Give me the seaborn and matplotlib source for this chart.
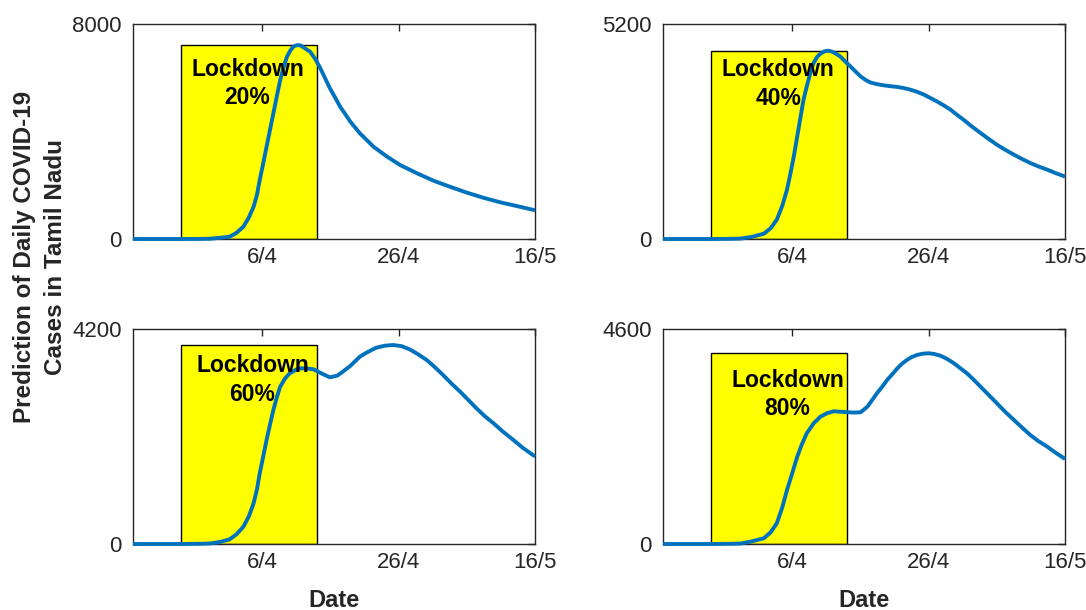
import matplotlib
matplotlib.use("Agg")
import matplotlib.pyplot as plt
import seaborn as sns

# Days counted from 18 March 2020 (day 0) to 16 May 2020 (day 59)
days_20 = [0, 7, 10, 11.3, 12.8, 14.2, 15.2, 16.2, 17.0, 17.7, 18.2, 18.6, 19.1, 19.6,
           20.1, 20.6, 21.1, 21.6, 22.1, 22.6, 23.1, 23.6, 24.1, 24.6, 25.2, 26.0,
           26.8, 27.5, 28.2, 28.9, 29.7, 30.4, 31.2, 31.9, 33.3, 35.3, 37.3, 39.2,
           41.7, 44.1, 46.5, 49.0, 51.4, 53.9, 56.3, 59.0]
cases_20 = [0, 0, 5, 10, 45, 86, 230, 458, 800, 1200, 1650, 2195, 2800, 3434,
            4050, 4676, 5300, 5915, 6400, 6783, 7020, 7170, 7215, 7200, 7100, 6968,
            6680, 6350, 5980, 5606, 5250, 4922, 4630, 4364, 3932, 3434, 3062, 2753,
            2444, 2169, 1946, 1724, 1537, 1365, 1228, 1070]

days_40 = [0, 7, 10, 11.4, 13.0, 14.8, 15.8, 16.7, 17.5, 18.2, 18.7, 19.2, 19.7, 20.2,
           20.6, 21.1, 21.6, 22.1, 22.6, 23.1, 23.7, 24.3, 25.0, 26.0, 26.7, 27.5,
           28.3, 29.0, 29.7, 30.4, 31.4, 32.4, 33.4, 34.4, 35.4, 36.3, 37.3, 38.3,
           39.2, 40.2, 41.2, 42.2, 43.1, 44.1, 45.3, 46.6, 47.8, 49.0, 50.2, 51.5,
           52.7, 53.9, 55.1, 56.4, 57.6, 59.0]
cases_40 = [0, 0, 5, 10, 50, 128, 260, 467, 800, 1193, 1580, 1998, 2480, 2966,
            3350, 3691, 4000, 4257, 4400, 4482, 4540, 4555, 4520, 4417, 4300, 4175,
            4045, 3933, 3850, 3788, 3745, 3716, 3695, 3677, 3648, 3612, 3560, 3491,
            3415, 3329, 3232, 3128, 3010, 2886, 2725, 2564, 2420, 2281, 2160, 2039,
            1935, 1838, 1755, 1676, 1595, 1510]

days_60 = [0, 7, 10, 11.3, 12.8, 14.2, 15.2, 16.2, 17.0, 17.7, 18.2, 18.6, 19.1, 19.6,
           20.1, 20.6, 21.1, 21.6, 22.3, 23.0, 24.0, 24.5, 25.5, 26.5, 27.7, 28.9,
           30.0, 30.8, 31.9, 33.3, 34.3, 35.7, 37.0, 38.2, 39.4, 40.6, 41.8, 43.1,
           44.3, 45.5, 46.7, 48.0, 49.2, 50.4, 51.6, 52.9, 54.3, 55.8, 57.2, 59.0]
cases_60 = [0, 0, 5, 10, 40, 92, 190, 338, 540, 795, 1070, 1381, 1700, 2031,
            2330, 2617, 2860, 3072, 3230, 3334, 3410, 3431, 3430, 3412, 3330, 3256,
            3290, 3367, 3480, 3660, 3740, 3835, 3875, 3887, 3865, 3803, 3710, 3595,
            3455, 3302, 3140, 2977, 2815, 2652, 2500, 2360, 2195, 2035, 1880, 1710]

days_80 = [0, 7, 10, 11.4, 13.0, 14.8, 15.8, 16.7, 17.5, 18.2, 19.0, 19.7, 20.4, 21.1,
           22.1, 23.1, 24.1, 25.1, 26.0, 27.0, 28.0, 29.0, 30.0, 30.7, 31.4, 32.2,
           32.9, 33.7, 34.4, 35.1, 35.8, 36.5, 37.3, 38.1, 39.0, 39.8, 40.7, 41.7,
           42.7, 43.6, 44.6, 45.6, 46.6, 47.8, 49.0, 50.2, 51.5, 52.7, 53.9, 55.1,
           56.4, 57.6, 59.0]
cases_80 = [0, 0, 5, 10, 55, 122, 250, 443, 780, 1156, 1530, 1868, 2140, 2369,
            2580, 2724, 2800, 2840, 2830, 2820, 2812, 2818, 2938, 3080, 3225, 3370,
            3510, 3640, 3760, 3860, 3938, 4000, 4045, 4072, 4081, 4065, 4030, 3960,
            3867, 3765, 3653, 3515, 3366, 3190, 3011, 2830, 2654, 2490, 2333, 2200,
            2082, 1955, 1820]

lockdown_levels = ["20%", "40%", "60%", "80%"]
y_tops = [8000, 5200, 4200, 4600]
lockdown_start, lockdown_end = 7, 27          # 25 March .. 14 April
tick_days = [19, 39, 59]
tick_labels = ["6/4", "26/4", "16/5"]

series = [(days_20, cases_20), (days_40, cases_40),
          (days_60, cases_60), (days_80, cases_80)]

sns.set_theme(style="white")
plt.rcParams["font.family"] = ["Liberation Sans", "DejaVu Sans"]

line_blue = "#0072BD"
frame = "#262626"

fig = plt.figure(figsize=(10.86, 6.10), dpi=100)

W, H = 1086.0, 610.0
panel_px = [(133, 24), (663, 24), (133, 329), (663, 329)]   # left, top in pixels
pw, ph = 402, 215
text_pos = [(0.285, 0.723), (0.287, 0.72), (0.297, 0.763), (0.31, 0.695)]

for i, ((days, cases), level, ytop) in enumerate(zip(series, lockdown_levels, y_tops)):
    lx, ty = panel_px[i]
    ax = fig.add_axes([lx / W, 1 - (ty + ph) / H, pw / W, ph / H])

    # lockdown window, as tall as the curve's maximum
    peak = max(cases)
    ax.bar((lockdown_start + lockdown_end) / 2, peak, width=lockdown_end - lockdown_start,
           color="#FFFF00", edgecolor="black", linewidth=1.0, zorder=1)

    sns.lineplot(x=days, y=cases, ax=ax, color=line_blue, linewidth=2.8,
                 zorder=3, sort=False)
    for ln in ax.lines:
        ln.set_clip_on(False)
        ln.set_solid_capstyle("butt")
        ln.set_solid_joinstyle("round")

    ax.text(text_pos[i][0], text_pos[i][1], f"Lockdown\n{level}", transform=ax.transAxes,
            ha="center", va="center", fontsize=16.5, fontweight="bold", color="black",
            zorder=4, linespacing=1.3)

    ax.set_xlim(0, 59)
    ax.set_ylim(0, ytop)
    ax.set_xticks(tick_days)
    ax.set_xticklabels(tick_labels)
    ax.set_yticks([0, ytop])
    ax.set_yticklabels(["0", str(ytop)])
    ax.set_xlabel("")
    ax.set_ylabel("")
    ax.tick_params(axis="both", direction="in", length=5, width=1, colors=frame,
                   labelsize=16, labelcolor=frame, top=True, right=True)
    ax.tick_params(axis="x", pad=6)
    ax.tick_params(axis="y", pad=8)
    for sp in ax.spines.values():
        sp.set_visible(True)
        sp.set_color(frame)
        sp.set_linewidth(1.0)

    if i >= 2:
        ax.text(0.5, (ph - (607 - ty)) / ph, "Date", transform=ax.transAxes,
                ha="center", va="baseline", fontsize=17, fontweight="bold", color=frame)

fig.text(40 / W, 1 - 257 / H, "Prediction of Daily COVID-19\nCases in Tamil Nadu",
         rotation=90, ha="center", va="center", multialignment="center",
         fontsize=17.5, fontweight="bold", color=frame, linespacing=1.4)

fig.savefig("out.png", dpi=100, facecolor="white")
